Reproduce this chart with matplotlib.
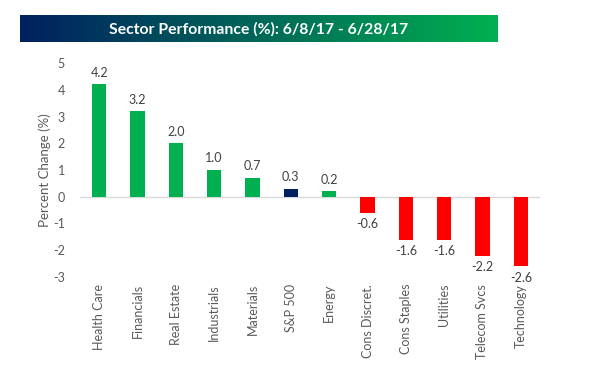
import numpy as np
import matplotlib.pyplot as plt
from matplotlib.colors import LinearSegmentedColormap

plt.rcParams['font.family'] = ['Lato', 'DejaVu Sans']

sectors = ['Health Care', 'Financials', 'Real Estate', 'Industrials', 'Materials',
           'S&P 500', 'Energy', 'Cons Discret.', 'Cons Staples', 'Utilities',
           'Telecom Svcs', 'Technology']
values = [4.2, 3.2, 2.0, 1.0, 0.7, 0.3, 0.2, -0.6, -1.6, -1.6, -2.2, -2.6]
yticks = [-3, -2, -1, 0, 1, 2, 3, 4, 5]

green = '#00B050'
red = '#FF0000'
navy = '#002060'
colors = [navy if s == 'S&P 500' else (green if v >= 0 else red)
          for s, v in zip(sectors, values)]

W, H = 595, 383
fig = plt.figure(figsize=(W / 100, H / 100), dpi=100)

# title banner with gradient
bax = fig.add_axes([20 / W, 1 - 42 / H, 478 / W, 27 / H])
cmap = LinearSegmentedColormap.from_list('banner', [navy, green])
bax.imshow(np.linspace(0, 1, 256).reshape(1, -1), cmap=cmap, aspect='auto',
           extent=[0, 1, 0, 1])
bax.set_axis_off()
bax.text(0.5, 0.48, 'Sector Performance (%): 6/8/17 - 6/28/17', color='white',
         fontsize=11.3, fontweight='bold', ha='center', va='center',
         transform=bax.transAxes)

ax = fig.add_axes([80 / W, (H - 277) / H, 460 / W, 214 / H])
x = np.arange(len(sectors))
ax.bar(x, values, width=0.37, color=colors)
ax.axhline(0, color='#D9D9D9', linewidth=1, zorder=0)
ax.set_xlim(-0.5, len(sectors) - 0.5)
ax.set_ylim(-3, 5)
ax.set_yticks(yticks)
ax.set_yticklabels([str(t) for t in yticks])
ax.set_xticks(x)
ax.set_xticklabels(sectors, rotation=90, va='top')
ax.tick_params(axis='both', length=0, labelsize=9, labelcolor='#595959')
ax.tick_params(axis='x', pad=5)
ax.tick_params(axis='y', pad=11)
for s in ax.spines.values():
    s.set_visible(False)
ax.set_ylabel('Percent Change (%)', fontsize=9.5, color='#595959', labelpad=1)

for xi, v in zip(x, values):
    if v >= 0:
        ax.annotate(f'{v:.1f}', (xi, v), xytext=(0, 4), textcoords='offset points',
                    ha='center', va='bottom', fontsize=9, color='#404040')
    else:
        ax.annotate(f'{v:.1f}', (xi, v), xytext=(0, -4), textcoords='offset points',
                    ha='center', va='top', fontsize=9, color='#404040')

fig.savefig('out.png', dpi=100)
